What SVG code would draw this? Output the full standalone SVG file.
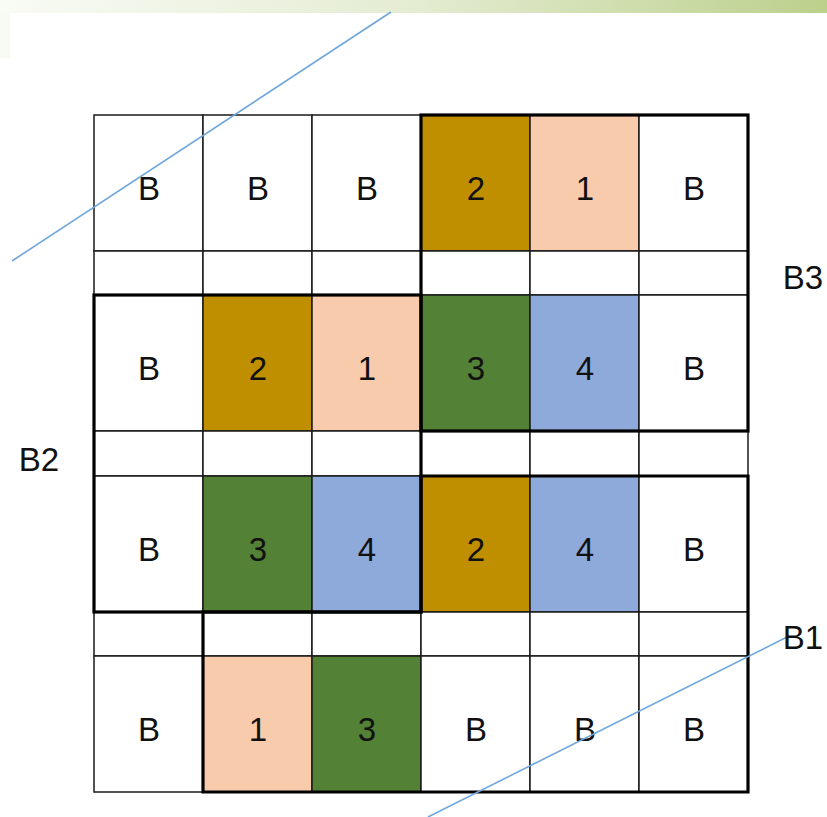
<svg xmlns="http://www.w3.org/2000/svg" width="827" height="817" viewBox="0 0 827 817">
<defs>
<linearGradient id="band" x1="0" y1="0" x2="1" y2="0">
<stop offset="0" stop-color="#f9fbf5"/>
<stop offset="0.5" stop-color="#e4ecd2"/>
<stop offset="1" stop-color="#bcd08c"/>
</linearGradient>
</defs>
<style>
.c{stroke:#1a1a1a;stroke-width:1.5}
.w{fill:#ffffff}
.g{fill:#bf8f00}
.p{fill:#f8cbad}
.n{fill:#538135}
.b{fill:#8eaadb}
.t{font-family:"Liberation Sans",Arial,sans-serif;font-size:33px;fill:#111;text-anchor:middle}
.k{fill:none;stroke:#000;stroke-width:3.2;stroke-linejoin:miter}
.ln{stroke:#6fa6dc;stroke-width:1.6;fill:none}
</style>
<rect x="0" y="0" width="827" height="817" fill="#ffffff"/>
<rect x="0" y="0" width="827" height="13" fill="url(#band)"/>
<rect x="0" y="13" width="10" height="45" fill="#f8faf4"/>

<g id="r1c1"><rect class="c w" x="94" y="115" width="109" height="136"/><text class="t" x="149" y="200">B</text></g>
<g id="r1c2"><rect class="c w" x="203" y="115" width="109" height="136"/><text class="t" x="258" y="200">B</text></g>
<g id="r1c3"><rect class="c w" x="312" y="115" width="109" height="136"/><text class="t" x="367" y="200">B</text></g>
<g id="r1c4"><rect class="c g" x="421" y="115" width="109" height="136"/><text class="t" x="476" y="200">2</text></g>
<g id="r1c5"><rect class="c p" x="530" y="115" width="109" height="136"/><text class="t" x="585" y="200">1</text></g>
<g id="r1c6"><rect class="c w" x="639" y="115" width="109" height="136"/><text class="t" x="694" y="200">B</text></g>

<g id="s1">
<rect class="c w" x="94" y="251" width="109" height="44"/>
<rect class="c w" x="203" y="251" width="109" height="44"/>
<rect class="c w" x="312" y="251" width="109" height="44"/>
<rect class="c w" x="421" y="251" width="109" height="44"/>
<rect class="c w" x="530" y="251" width="109" height="44"/>
<rect class="c w" x="639" y="251" width="109" height="44"/>
</g>

<g id="r2c1"><rect class="c w" x="94" y="295" width="109" height="136"/><text class="t" x="149" y="380">B</text></g>
<g id="r2c2"><rect class="c g" x="203" y="295" width="109" height="136"/><text class="t" x="258" y="380">2</text></g>
<g id="r2c3"><rect class="c p" x="312" y="295" width="109" height="136"/><text class="t" x="367" y="380">1</text></g>
<g id="r2c4"><rect class="c n" x="421" y="295" width="109" height="136"/><text class="t" x="476" y="380">3</text></g>
<g id="r2c5"><rect class="c b" x="530" y="295" width="109" height="136"/><text class="t" x="585" y="380">4</text></g>
<g id="r2c6"><rect class="c w" x="639" y="295" width="109" height="136"/><text class="t" x="694" y="380">B</text></g>

<g id="s2">
<rect class="c w" x="94" y="431" width="109" height="45"/>
<rect class="c w" x="203" y="431" width="109" height="45"/>
<rect class="c w" x="312" y="431" width="109" height="45"/>
<rect class="c w" x="421" y="431" width="109" height="45"/>
<rect class="c w" x="530" y="431" width="109" height="45"/>
<rect class="c w" x="639" y="431" width="109" height="45"/>
</g>

<g id="r3c1"><rect class="c w" x="94" y="476" width="109" height="136"/><text class="t" x="149" y="561">B</text></g>
<g id="r3c2"><rect class="c n" x="203" y="476" width="109" height="136"/><text class="t" x="258" y="561">3</text></g>
<g id="r3c3"><rect class="c b" x="312" y="476" width="109" height="136"/><text class="t" x="367" y="561">4</text></g>
<g id="r3c4"><rect class="c g" x="421" y="476" width="109" height="136"/><text class="t" x="476" y="561">2</text></g>
<g id="r3c5"><rect class="c b" x="530" y="476" width="109" height="136"/><text class="t" x="585" y="561">4</text></g>
<g id="r3c6"><rect class="c w" x="639" y="476" width="109" height="136"/><text class="t" x="694" y="561">B</text></g>

<g id="s3">
<rect class="c w" x="94" y="612" width="109" height="44"/>
<rect class="c w" x="203" y="612" width="109" height="44"/>
<rect class="c w" x="312" y="612" width="109" height="44"/>
<rect class="c w" x="421" y="612" width="109" height="44"/>
<rect class="c w" x="530" y="612" width="109" height="44"/>
<rect class="c w" x="639" y="612" width="109" height="44"/>
</g>

<g id="r4c1"><rect class="c w" x="94" y="656" width="109" height="136"/><text class="t" x="149" y="741">B</text></g>
<g id="r4c2"><rect class="c p" x="203" y="656" width="109" height="136"/><text class="t" x="258" y="741">1</text></g>
<g id="r4c3"><rect class="c n" x="312" y="656" width="109" height="136"/><text class="t" x="367" y="741">3</text></g>
<g id="r4c4"><rect class="c w" x="421" y="656" width="109" height="136"/><text class="t" x="476" y="741">B</text></g>
<g id="r4c5"><rect class="c w" x="530" y="656" width="109" height="136"/><text class="t" x="585" y="741">B</text></g>
<g id="r4c6"><rect class="c w" x="639" y="656" width="109" height="136"/><text class="t" x="694" y="741">B</text></g>

<g id="block-B3"><rect class="k" x="421" y="115" width="327" height="316"/></g>
<g id="block-B2"><rect class="k" x="94" y="295" width="327" height="317"/></g>
<g id="block-B1"><path class="k" d="M421,476 H748 V792 H203 V612 H421 Z"/></g>

<g id="connectors">
<line class="ln" x1="12" y1="261" x2="391" y2="12"/>
<line class="ln" x1="428" y1="817" x2="787" y2="637"/>
</g>

<g id="labels">
<text class="t" x="803" y="289">B3</text>
<text class="t" x="39" y="471">B2</text>
<text class="t" x="803" y="649">B1</text>
</g>
</svg>
